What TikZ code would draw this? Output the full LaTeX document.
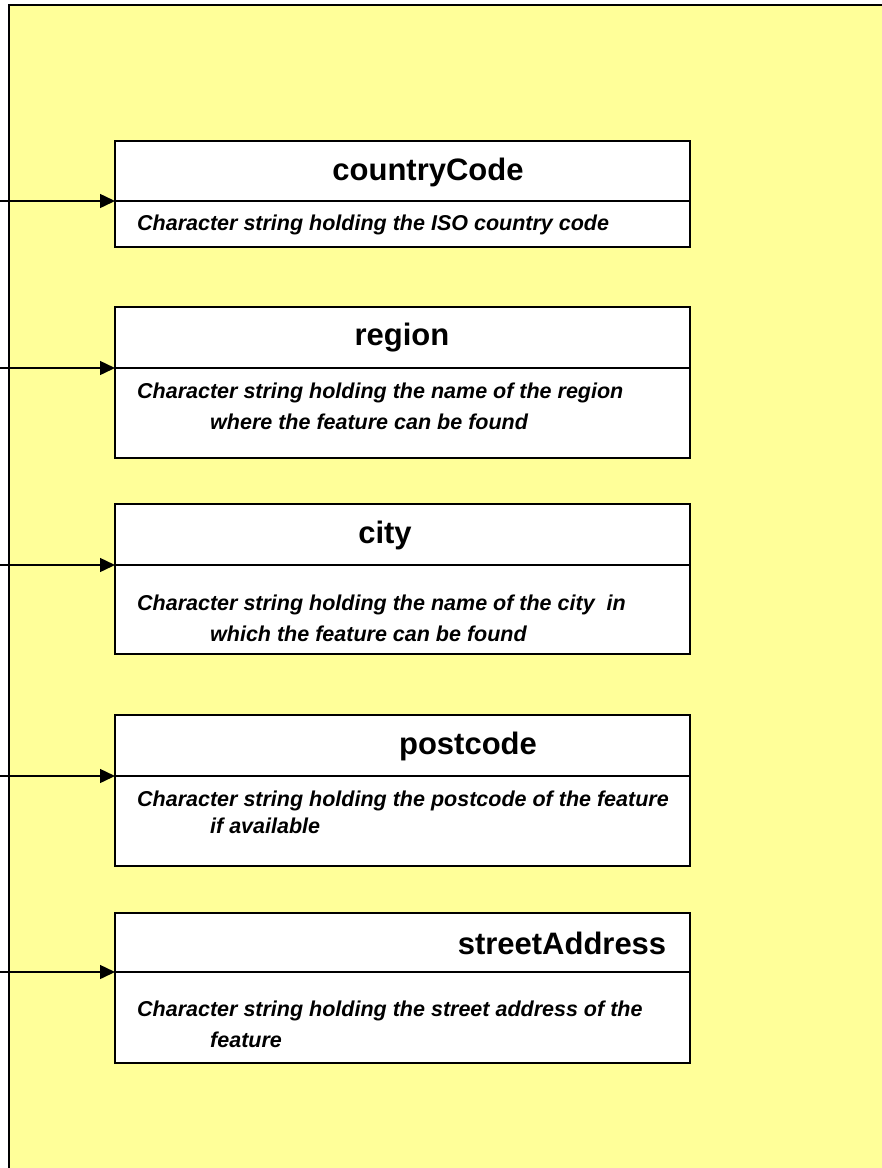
\documentclass[tikz,border=0pt]{standalone}
\usepackage{fontspec}
\setmainfont{Liberation Sans}
\usetikzlibrary{arrows.meta}
\definecolor{bgyellow}{HTML}{FFFF99}
\begin{document}
\begin{tikzpicture}[x=1pt,y=-1pt,
 cell/.style={draw=black,fill=white,line width=1.5pt,inner sep=0pt,outer sep=0pt,anchor=north west,minimum width=575pt},
 ttl/.style={font=\bfseries\fontsize{31}{36}\selectfont,inner sep=0pt},
 desc/.style={font=\bfseries\itshape\fontsize{21.5}{29}\selectfont,inner sep=0pt,anchor=west},
 arr/.style={line width=1.5pt,-{Triangle[length=15pt,width=14pt]}}]
\useasboundingbox (0,0) rectangle (882,1168);
\clip (0,0) rectangle (882,1168);
\draw[fill=bgyellow,line width=2pt] (9,5) rectangle (900,1190);

% box 1
\node[cell,minimum height=60pt] (h1) at (115,141) {};
\node[cell,minimum height=46pt] (b1) at (115,201) {};
\node[ttl] (t1) at (428,172) {countryCode};
\node[desc] (d1) at (137,225) {Character string holding the ISO country code};
% box 2
\node[cell,minimum height=61pt] (h2) at (115,307) {};
\node[cell,minimum height=90pt] (b2) at (115,368) {};
\node[ttl] (t2) at (402,338) {region};
\node[desc] (d2a) at (137,393) {Character string holding the name of the region};
\node[desc] (d2b) at (210,422) {where the feature can be found};
% box 3
\node[cell,minimum height=61pt] (h3) at (115,504) {};
\node[cell,minimum height=89pt] (b3) at (115,565) {};
\node[ttl] (t3) at (385,535) {city};
\node[desc] (d3a) at (137,605) {Character string holding the name of the city\ \ in};
\node[desc] (d3b) at (210,634) {which the feature can be found};
% box 4
\node[cell,minimum height=61pt] (h4) at (115,715) {};
\node[cell,minimum height=90pt] (b4) at (115,776) {};
\node[ttl] (t4) at (468,746) {postcode};
\node[desc] (d4a) at (137,801) {Character string holding the postcode of the feature};
\node[desc] (d4b) at (210,826) {if available};
% box 5
\node[cell,minimum height=59pt] (h5) at (115,913) {};
\node[cell,minimum height=91pt] (b5) at (115,972) {};
\node[ttl] (t5) at (562,943) {streetAddress};
\node[desc] (d5a) at (137,1011) {Character string holding the street address of the};
\node[desc] (d5b) at (210,1040) {feature};

% connectors
\coordinate (s1) at (0,201);
\coordinate (s2) at (0,368);
\coordinate (s3) at (0,565);
\coordinate (s4) at (0,776);
\coordinate (s5) at (0,972);
\draw[arr] (s1) -- (h1.south west);
\draw[arr] (s2) -- (h2.south west);
\draw[arr] (s3) -- (h3.south west);
\draw[arr] (s4) -- (h4.south west);
\draw[arr] (s5) -- (h5.south west);
\end{tikzpicture}
\end{document}
